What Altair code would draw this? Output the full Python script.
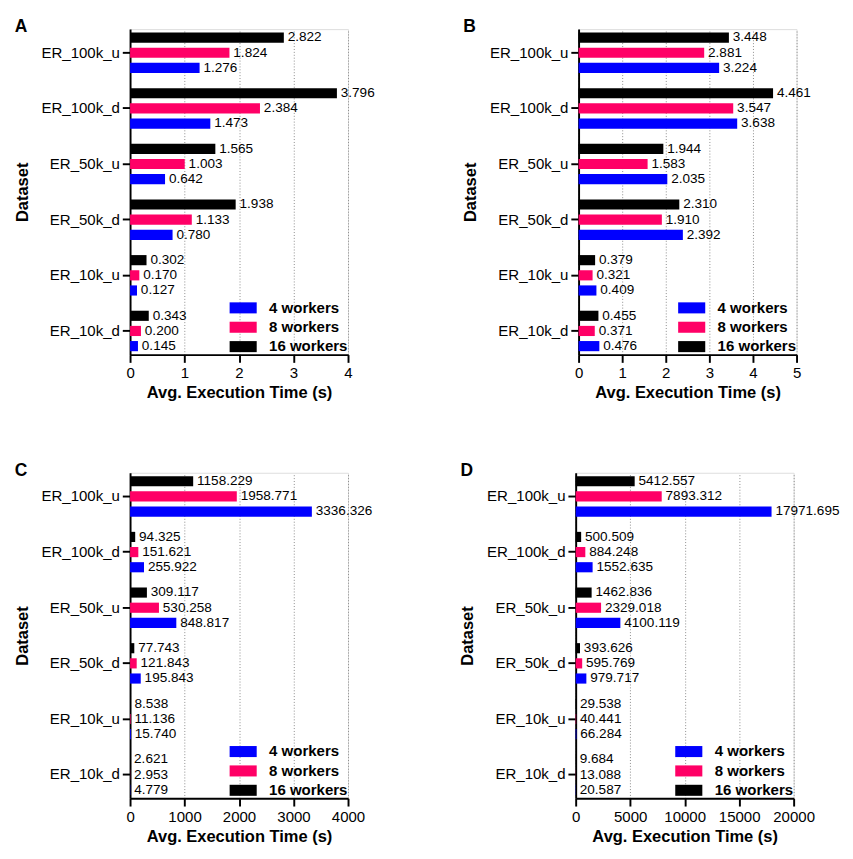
import altair as alt
import pandas as pd

FONT = "Liberation Sans"

categories = ["ER_100k_u", "ER_100k_d", "ER_50k_u", "ER_50k_d", "ER_10k_u", "ER_10k_d"]
workers = ["4 workers", "8 workers", "16 workers"]
colors = ["#0000FF", "#FF0066", "#000000"]

a_4 = [1.276, 1.473, 0.642, 0.780, 0.127, 0.145]
a_8 = [1.824, 2.384, 1.003, 1.133, 0.170, 0.200]
a_16 = [2.822, 3.796, 1.565, 1.938, 0.302, 0.343]

b_4 = [3.224, 3.638, 2.035, 2.392, 0.409, 0.476]
b_8 = [2.881, 3.547, 1.583, 1.910, 0.321, 0.371]
b_16 = [3.448, 4.461, 1.944, 2.310, 0.379, 0.455]

c_4 = [3336.326, 255.922, 848.817, 195.843, 15.740, 4.779]
c_8 = [1958.771, 151.621, 530.258, 121.843, 11.136, 2.953]
c_16 = [1158.229, 94.325, 309.117, 77.743, 8.538, 2.621]

d_4 = [17971.695, 1552.635, 4100.119, 979.717, 66.284, 20.587]
d_8 = [7893.312, 884.248, 2329.018, 595.769, 40.441, 13.088]
d_16 = [5412.557, 500.509, 1462.836, 393.626, 29.538, 9.684]

ticks_a = [0, 1, 2, 3, 4]
ticks_b = [0, 1, 2, 3, 4, 5]
ticks_c = [0, 1000, 2000, 3000, 4000]
ticks_d = [0, 5000, 10000, 15000, 20000]


def panel(letter, v4, v8, v16, ticks):
    df = pd.DataFrame({
        "Dataset": categories * 3,
        "Workers": [workers[0]] * 6 + [workers[1]] * 6 + [workers[2]] * 6,
        "Time": v4 + v8 + v16,
    })
    base = alt.Chart(df).encode(
        y=alt.Y(
            "Dataset:N", sort=categories, title="Dataset",
            scale=alt.Scale(paddingInner=0.15, paddingOuter=0),
            axis=alt.Axis(labelFontSize=15.5, labelFont=FONT, labelColor="black",
                          domainWidth=2, domainColor="black", tickWidth=2, tickColor="black",
                          tickSize=8, labelPadding=3, titleFontSize=17, titleFont=FONT,
                          titleFontWeight="bold", titleColor="black", titlePadding=10, grid=False),
        ),
        yOffset=alt.YOffset("Workers:N",
                            scale=alt.Scale(domain=workers[::-1], paddingInner=0.33, paddingOuter=0.225)),
        x=alt.X(
            "Time:Q", title="Avg. Execution Time (s)",
            scale=alt.Scale(domain=[ticks[0], ticks[-1]], nice=False),
            axis=alt.Axis(values=ticks, format="d", labelFontSize=15.5, labelFont=FONT, labelColor="black",
                          labelOverlap=False, labelBound=False, labelFlush=False,
                          domainWidth=2, domainColor="black", tickWidth=2, tickColor="black",
                          tickSize=8, labelPadding=4, titleFontSize=17, titleFont=FONT,
                          titleFontWeight="bold", titleColor="black", titlePadding=4,
                          grid=True, gridDash=[1, 2], gridColor="#888888", gridWidth=1),
        ),
    )
    bars = base.mark_bar().encode(
        color=alt.Color(
            "Workers:N",
            scale=alt.Scale(domain=workers, range=colors),
            legend=alt.Legend(title=None, orient="none", legendX=109, legendY=280,
                              symbolType="M-2.33,-0.95H2.33V0.95H-2.33Z", symbolSize=144,
                              labelOffset=19, labelFontSize=15.5, labelFontWeight="bold",
                              labelFont=FONT, labelColor="black", rowPadding=3,
                              symbolStrokeWidth=0, symbolOpacity=1, padding=0),
        )
    )
    labels = base.mark_text(align="left", baseline="middle", dx=4, fontSize=14,
                            font=FONT, color="black").encode(
        text=alt.Text("Time:Q", format=".3f"))
    letter_df = pd.DataFrame({"letter": [letter]})
    let = alt.Chart(letter_df).mark_text(align="left", baseline="alphabetic", fontSize=18,
                                         fontWeight="bold", font=FONT, color="black").encode(
        text="letter:N", x=alt.value(-119), y=alt.value(3))
    return alt.layer(bars, labels, let).properties(width=225, height=336)


pa = panel("A", a_4, a_8, a_16, ticks_a)
pb = panel("B", b_4, b_8, b_16, ticks_b)
pc = panel("C", c_4, c_8, c_16, ticks_c)
pd_ = panel("D", d_4, d_8, d_16, ticks_d)

row1 = alt.hconcat(pa, pb, spacing=88).resolve_scale(color="independent").resolve_legend(color="independent")
row2 = alt.hconcat(pc, pd_, spacing=88).resolve_scale(color="independent").resolve_legend(color="independent")

chart = alt.vconcat(row1, row2, spacing=62).resolve_scale(color="independent").resolve_legend(
    color="independent").properties(padding={"left": 5, "top": -4, "right": 5, "bottom": 5}).configure_view(
    stroke=None).configure(background="white")

chart.save("out.html", embed_options={"renderer": "svg", "actions": False})
